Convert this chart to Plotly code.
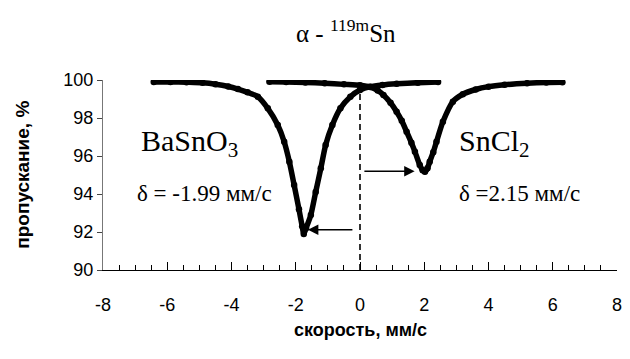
import plotly.graph_objects as go

# --- data ---
basno3_x = [-6.42, -5.9, -5.4, -4.9, -4.5, -4.1, -3.8, -3.5, -3.18, -2.87, -2.56, -2.36, -2.2, -2.05,
            -1.9, -1.8, -1.75, -1.68, -1.53, -1.38, -1.22, -1.07, -0.86, -0.61, -0.3, 0.0, 0.32, 0.7,
            1.14, 1.8, 2.43]
basno3_y = [99.9, 99.9, 99.88, 99.85, 99.78, 99.66, 99.52, 99.35, 99.12, 98.51, 97.63, 96.75, 95.7, 94.47,
            93.2, 92.3, 91.9, 92.2, 92.9, 94.1, 95.35, 96.58, 97.63, 98.51, 99.12, 99.47, 99.65, 99.74,
            99.8, 99.86, 99.9]

sncl2_x = [-2.82, -2.3, -1.7, -1.1, -0.5, 0.0, 0.32, 0.55, 0.73, 0.95, 1.14, 1.3, 1.45, 1.6, 1.71, 1.86,
           1.95, 2.02, 2.1, 2.17, 2.28, 2.38, 2.58, 2.89, 3.2, 3.6, 4.0, 4.5, 5.2, 5.8, 6.3]
sncl2_y = [99.91, 99.9, 99.87, 99.83, 99.77, 99.72, 99.63, 99.45, 99.21, 98.8, 98.33, 97.85, 97.28, 96.7,
           96.23, 95.53, 95.25, 95.17, 95.35, 95.7, 96.2, 96.75, 97.8, 98.86, 99.25, 99.5, 99.65, 99.75,
           99.83, 99.87, 99.88]

zero_line_x = [0, 0]
zero_line_y = [90, 99.55]

x_ticks = [-8, -6, -4, -2, 0, 2, 4, 6, 8]
y_ticks = [90, 92, 94, 96, 98, 100]

title_text = "α - <sup>119m</sup>Sn"
x_title = "скорость, мм/с"
y_title = "пропускание, %"
labels = [
    ("BaSnO<sub>3</sub>", -5.3, 96.68, 30),
    ("SnCl<sub>2</sub>", 4.2, 96.68, 30),
    ("δ = -1.99 мм/с", -4.85, 94.05, 23),
    ("δ =2.15 мм/с", 4.97, 94.05, 23),
]
# arrows: (tail x, tail y, head x, head y)
arrows = [
    (-0.19, 92.12, -1.62, 92.12),
    (0.09, 95.2, 1.7, 95.2),
]

serif = "Liberation Serif, Times New Roman, serif"
sans = "Liberation Sans, Arial, sans-serif"

fig = go.Figure()
fig.add_trace(go.Scatter(x=zero_line_x, y=zero_line_y, mode="lines",
                         line=dict(color="black", width=1.6, dash="6px,4px"), showlegend=False))
for xs, ys in [(basno3_x, basno3_y), (sncl2_x, sncl2_y)]:
    fig.add_trace(go.Scatter(x=xs, y=ys, mode="lines+markers",
                             line=dict(color="black", width=5.5, shape="spline", smoothing=0.6),
                             marker=dict(color="black", size=6.5),
                             showlegend=False))

annotations = []
annotations.append(dict(text=title_text, xref="paper", yref="paper", x=0.472, y=1.26,
                        xanchor="center", yanchor="middle",
                        showarrow=False, font=dict(family=serif, size=25, color="black")))
annotations.append(dict(text="<b>" + x_title + "</b>", xref="paper", yref="paper", x=0.5, y=-0.316,
                        xanchor="center", yanchor="middle",
                        showarrow=False, font=dict(family=sans, size=18, color="black")))
annotations.append(dict(text="<b>" + y_title + "</b>", xref="paper", yref="paper", x=-0.158, y=0.5,
                        xanchor="center", yanchor="middle",
                        textangle=-90, showarrow=False, font=dict(family=sans, size=19, color="black")))
for t, lx, ly, s in labels:
    annotations.append(dict(text=t, x=lx, y=ly, xref="x", yref="y", showarrow=False,
                            xanchor="center", yanchor="middle",
                            font=dict(family=serif, size=s, color="black")))
for tx, ty, hx, hy in arrows:
    annotations.append(dict(x=hx, y=hy, ax=tx, ay=ty, xref="x", yref="y", axref="x", ayref="y",
                            text="", showarrow=True, arrowhead=2, arrowsize=1.3, arrowwidth=1.6,
                            arrowcolor="black", standoff=0))

fig.update_layout(
    width=630, height=359,
    margin=dict(l=103, r=8, t=80, b=89),
    paper_bgcolor="white", plot_bgcolor="white",
    annotations=annotations,
    xaxis=dict(range=[-8, 8], tickvals=x_ticks, ticktext=[str(v) for v in x_ticks],
               showgrid=False, zeroline=False, showline=True, linecolor="black", linewidth=1.3,
               ticks="inside", ticklen=8, tickwidth=1.2, tickcolor="black",
               minor=dict(dtick=0.5, ticks="inside", ticklen=5, tickwidth=1, tickcolor="black"),
               ticklabelstandoff=18,
               tickfont=dict(family=sans, size=18, color="black")),
    yaxis=dict(range=[90, 100], tickvals=y_ticks, ticktext=[str(v) for v in y_ticks],
               showgrid=False, zeroline=False, showline=True, linecolor="#777", linewidth=1,
               ticks="outside", ticklen=5, tickwidth=1, tickcolor="#444",
               tickfont=dict(family=sans, size=18, color="black")),
)

fig.write_html("out.html")
